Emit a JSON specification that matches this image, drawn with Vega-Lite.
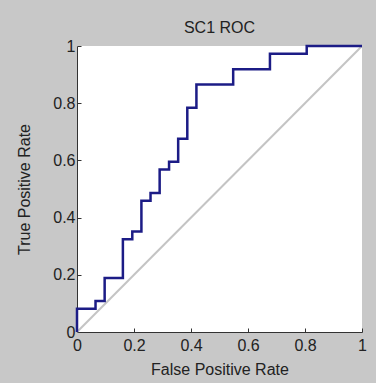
{
  "$schema": "https://vega.github.io/schema/vega-lite/v6.json",
  "width": 285,
  "height": 286,
  "autosize": {"type": "none"},
  "padding": {"left": 77, "top": 46, "right": 14, "bottom": 51},
  "background": "#c8c8c8",
  "view": {"fill": "white", "stroke": null},
  "title": {"text": "SC1 ROC", "fontSize": 16, "font": "Liberation Sans", "fontWeight": "normal", "color": "#222222", "offset": 2},
  "config": {
    "font": "Liberation Sans",
    "axis": {
      "domainColor": "#333333",
      "tickColor": "#333333",
      "tickSize": -4,
      "grid": false,
      "format": "~g",
      "labelFont": "Liberation Sans",
      "labelFontSize": 16,
      "labelColor": "#222222",
      "titleFont": "Liberation Sans",
      "titleFontSize": 16,
      "titleFontWeight": "normal",
      "titleColor": "#222222"
    }
  },
  "datasets": {
    "roc": [
      {"fpr": 0, "tpr": 0},
      {"fpr": 0, "tpr": 0.081},
      {"fpr": 0.065, "tpr": 0.108},
      {"fpr": 0.097, "tpr": 0.189},
      {"fpr": 0.161, "tpr": 0.324},
      {"fpr": 0.194, "tpr": 0.351},
      {"fpr": 0.226, "tpr": 0.459},
      {"fpr": 0.258, "tpr": 0.486},
      {"fpr": 0.290, "tpr": 0.568},
      {"fpr": 0.323, "tpr": 0.595},
      {"fpr": 0.355, "tpr": 0.676},
      {"fpr": 0.387, "tpr": 0.784},
      {"fpr": 0.419, "tpr": 0.865},
      {"fpr": 0.548, "tpr": 0.919},
      {"fpr": 0.677, "tpr": 0.973},
      {"fpr": 0.806, "tpr": 1},
      {"fpr": 1, "tpr": 1}
    ],
    "diag": [
      {"fpr": 0, "tpr": 0},
      {"fpr": 1, "tpr": 1}
    ]
  },
  "layer": [
    {
      "data": {"name": "diag"},
      "mark": {"type": "line", "color": "#c4c4c4", "strokeWidth": 2},
      "encoding": {
        "x": {"field": "fpr", "type": "quantitative", "scale": {"domain": [0, 1], "nice": false},
              "axis": {"title": "False Positive Rate", "values": [0, 0.2, 0.4, 0.6, 0.8, 1], "labelPadding": 9, "titlePadding": 8, "labelFlush": false}},
        "y": {"field": "tpr", "type": "quantitative", "scale": {"domain": [0, 1], "nice": false},
              "axis": {"title": "True Positive Rate", "values": [0, 0.2, 0.4, 0.6, 0.8, 1], "labelPadding": 6, "titlePadding": 20, "labelFlush": false}}
      }
    },
    {
      "data": {"name": "roc"},
      "mark": {"type": "line", "color": "#1c1c86", "strokeWidth": 2.5, "interpolate": "step-after"},
      "encoding": {
        "x": {"field": "fpr", "type": "quantitative"},
        "y": {"field": "tpr", "type": "quantitative"}
      }
    }
  ]
}
